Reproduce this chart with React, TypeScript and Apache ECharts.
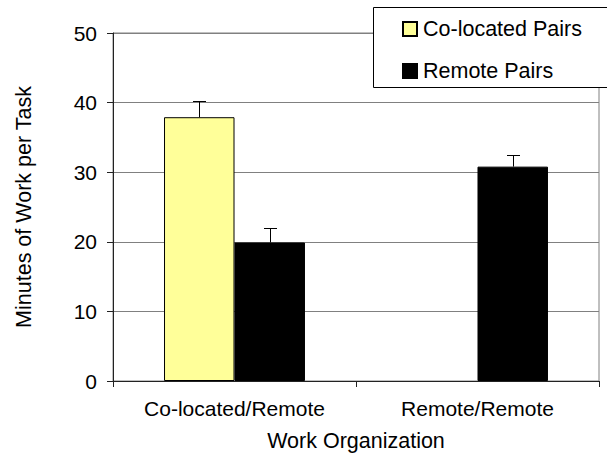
import React, { useEffect, useRef } from "react";
import * as echarts from "echarts";

const categories = ["Co-located/Remote", "Remote/Remote"];
const colocatedPairs: (number | null)[] = [37.9, null];
const remotePairs: (number | null)[] = [19.9, 30.8];
const colocatedUpper: (number | null)[] = [40.3, null];
const remoteUpper: (number | null)[] = [22.0, 32.4];
const seriesNames = ["Co-located Pairs", "Remote Pairs"];

const FONT = "'Liberation Sans', Arial, sans-serif";
const GAP = 0.42;

function errorSeries(name: string, values: (number | null)[], uppers: (number | null)[], side: number) {
  const data: any[] = [];
  values.forEach((v, i) => {
    if (v != null && uppers[i] != null) data.push([i, v, uppers[i]]);
  });
  return {
    type: "custom",
    name: name + " error",
    z: 5,
    silent: true,
    data,
    encode: { x: 0, y: [1, 2] },
    renderItem: (params: any, api: any) => {
      const idx = api.value(0);
      const base = api.coord([idx, api.value(1)]);
      const top = api.coord([idx, api.value(2)]);
      const band = api.size([1, 0])[0];
      const barW = (band * (1 - GAP)) / 2;
      const cx = Math.round(base[0] + side * barW / 2) + 0.5;
      const ty = Math.round(top[1]) + 0.5;
      const style = { stroke: "#000", lineWidth: 1 };
      return {
        type: "group",
        children: [
          { type: "line", shape: { x1: cx, y1: base[1], x2: cx, y2: ty }, style },
          { type: "line", shape: { x1: cx - 6.5, y1: ty, x2: cx + 6.5, y2: ty }, style },
        ],
      };
    },
  };
}

export default function App() {
  const ref = useRef<HTMLDivElement>(null);
  useEffect(() => {
    document.body.style.margin = "0";
    const chart = echarts.init(ref.current!, undefined, { renderer: "svg" });
    chart.setOption({
      animation: false,
      backgroundColor: "#fff",
      textStyle: { fontFamily: FONT },
      grid: {
        left: 113,
        right: 8,
        top: 33,
        bottom: 78,
        show: true,
        borderColor: "#808080",
        borderWidth: 1,
        backgroundColor: "transparent",
      },
      legend: {
        orient: "vertical",
        left: 397,
        top: 13,
        itemWidth: 14,
        itemHeight: 14,
        itemGap: 20,
        z: 10,
        icon: "rect",
        textStyle: { fontFamily: FONT, fontSize: 21.5, color: "#000", padding: [0, 0, 0, 1] },
        data: seriesNames,
      },
      graphic: [
        {
          type: "rect",
          z: 9,
          shape: { x: 373.5, y: 7.5, width: 260, height: 80 },
          style: { fill: "#fff", stroke: "#000", lineWidth: 1 },
        },
      ],
      xAxis: {
        type: "category",
        data: categories,
        name: "Work Organization",
        nameLocation: "middle",
        nameGap: 49,
        nameTextStyle: { fontFamily: FONT, fontSize: 21.5, color: "#000" },
        axisLine: { lineStyle: { color: "#222", width: 1 } },
        axisTick: { show: true, length: 6, lineStyle: { color: "#222" } },
        axisLabel: { fontFamily: FONT, fontSize: 21, color: "#000", margin: 17 },
        splitLine: { show: false },
      },
      yAxis: {
        type: "value",
        min: 0,
        max: 50,
        interval: 10,
        name: "Minutes of Work per Task",
        nameLocation: "middle",
        nameGap: 78,
        nameTextStyle: { fontFamily: FONT, fontSize: 21.5, color: "#000" },
        axisLine: { show: true, lineStyle: { color: "#222", width: 1 } },
        axisTick: { show: true, length: 6, lineStyle: { color: "#222" } },
        axisLabel: { fontFamily: FONT, fontSize: 21, color: "#000", margin: 16 },
        splitLine: { show: true, lineStyle: { color: "#808080", width: 1 } },
      },
      series: [
        {
          type: "bar",
          name: seriesNames[0],
          data: colocatedPairs,
          barGap: "0%",
          barCategoryGap: GAP * 100 + "%",
          itemStyle: { color: "#FFFF99", borderColor: "#000", borderWidth: 1 },
        },
        {
          type: "bar",
          name: seriesNames[1],
          data: remotePairs,
          barGap: "0%",
          barCategoryGap: GAP * 100 + "%",
          itemStyle: { color: "#000", borderColor: "#000", borderWidth: 1 },
        },
        errorSeries(seriesNames[0], colocatedPairs, colocatedUpper, -1),
        errorSeries(seriesNames[1], remotePairs, remoteUpper, 1),
      ],
    });
    return () => chart.dispose();
  }, []);
  return <div ref={ref} style={{ width: 607, height: 459 }} />;
}
